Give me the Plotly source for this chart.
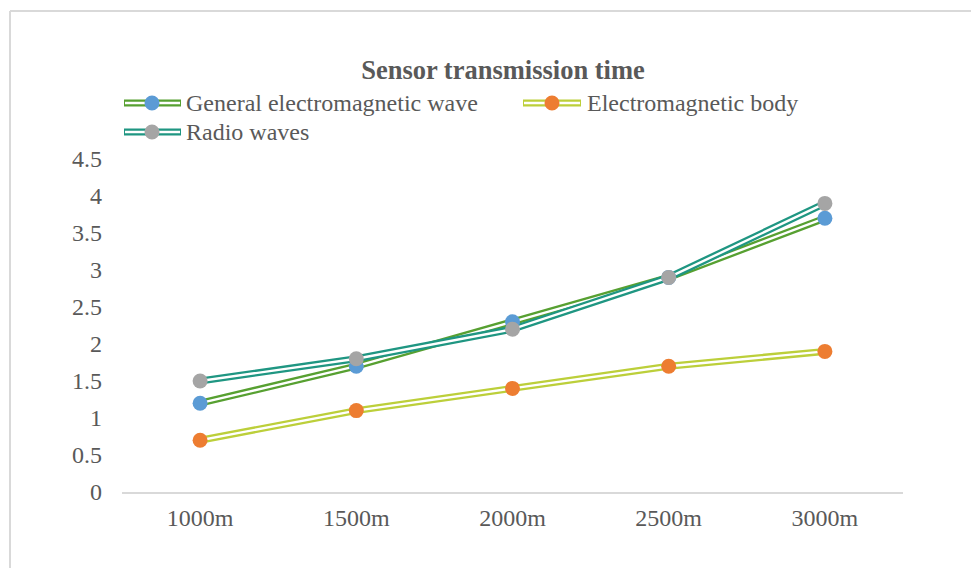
import plotly.graph_objects as go

categories = ["1000m", "1500m", "2000m", "2500m", "3000m"]
general_em = [1.2, 1.7, 2.3, 2.9, 3.7]
em_body = [0.7, 1.1, 1.4, 1.7, 1.9]
radio = [1.5, 1.8, 2.2, 2.9, 3.9]
y_ticks = [0, 0.5, 1, 1.5, 2, 2.5, 3, 3.5, 4, 4.5]

series = [
    ("General electromagnetic wave", general_em, "#57a031", "#5b9bd5"),
    ("Electromagnetic body", em_body, "#bccf3a", "#ed7d31"),
    ("Radio waves", radio, "#1f9682", "#a5a5a5"),
]

W, H = 971, 568
FONT = "Liberation Serif"
TXT = "#595959"

fig = go.Figure()
for name, vals, lc, mc in series:
    # double-stroke line: wide coloured stroke with a white core
    fig.add_trace(go.Scatter(x=categories, y=vals, mode="lines",
                             line=dict(color=lc, width=7), showlegend=False, hoverinfo="skip"))
    fig.add_trace(go.Scatter(x=categories, y=vals, mode="lines",
                             line=dict(color="white", width=2.4), showlegend=False, hoverinfo="skip"))
for name, vals, lc, mc in series:
    fig.add_trace(go.Scatter(x=categories, y=vals, mode="markers", name=name,
                             marker=dict(color=mc, size=15, line=dict(width=0)),
                             showlegend=False))

shapes = []
annotations = []


def px_x(x):
    return (x - 122) / 781


def px_y(y):
    return (492 - y) / 333


# chart frame (top and left edges)
shapes.append(dict(type="line", xref="paper", yref="paper", x0=px_x(10), x1=px_x(1000),
                   y0=px_y(11), y1=px_y(11), line=dict(color="#d9d9d9", width=2)))
shapes.append(dict(type="line", xref="paper", yref="paper", x0=px_x(10), x1=px_x(10),
                   y0=px_y(11), y1=px_y(600), line=dict(color="#d9d9d9", width=2)))

# legend entries
legend_items = [
    (series[0], 124, 181, 152, 184, 103),
    (series[1], 523, 581, 552, 585, 103),
    (series[2], 124, 181, 152, 184, 132),
]
for (name, vals, lc, mc), x0, x1, xm, xt, yc in legend_items:
    shapes.append(dict(type="line", xref="paper", yref="paper", x0=px_x(x0), x1=px_x(x1),
                       y0=px_y(yc), y1=px_y(yc), line=dict(color=lc, width=7)))
    shapes.append(dict(type="line", xref="paper", yref="paper", x0=px_x(x0 + 1), x1=px_x(x1 - 1),
                       y0=px_y(yc), y1=px_y(yc), line=dict(color="white", width=2.4)))
    r = 7.5
    shapes.append(dict(type="circle", xref="paper", yref="paper",
                       x0=px_x(xm - r), x1=px_x(xm + r), y0=px_y(yc + r), y1=px_y(yc - r),
                       fillcolor=mc, line=dict(width=0)))
    annotations.append(dict(text=name, xref="paper", yref="paper", x=px_x(xt), y=px_y(yc),
                            xanchor="left", yanchor="middle", showarrow=False,
                            font=dict(family=FONT, size=24, color=TXT)))

fig.update_layout(
    width=W, height=H,
    margin=dict(l=122, r=68, t=159, b=76),
    paper_bgcolor="white", plot_bgcolor="white",
    font=dict(family=FONT, color=TXT),
    title=dict(text="<b>Sensor transmission time</b>", x=503 / W, xanchor="center",
               y=1 - 70 / H, yanchor="middle",
               font=dict(family=FONT, size=26.5, color=TXT)),
    xaxis=dict(type="category", range=[-0.5, 4.5], showgrid=False, zeroline=False,
               showline=True, linecolor="#d9d9d9", linewidth=1.5, ticks="",
               tickfont=dict(family=FONT, size=24, color=TXT), ticklabelstandoff=3),
    yaxis=dict(range=[0, 4.5], tickvals=y_ticks, ticktext=[f"{v:g}" for v in y_ticks],
               showgrid=False, zeroline=False, showline=False, ticks="",
               tickfont=dict(family=FONT, size=24, color=TXT), ticklabelstandoff=19),
    shapes=shapes, annotations=annotations, showlegend=False,
)

fig.write_html("out.html")
